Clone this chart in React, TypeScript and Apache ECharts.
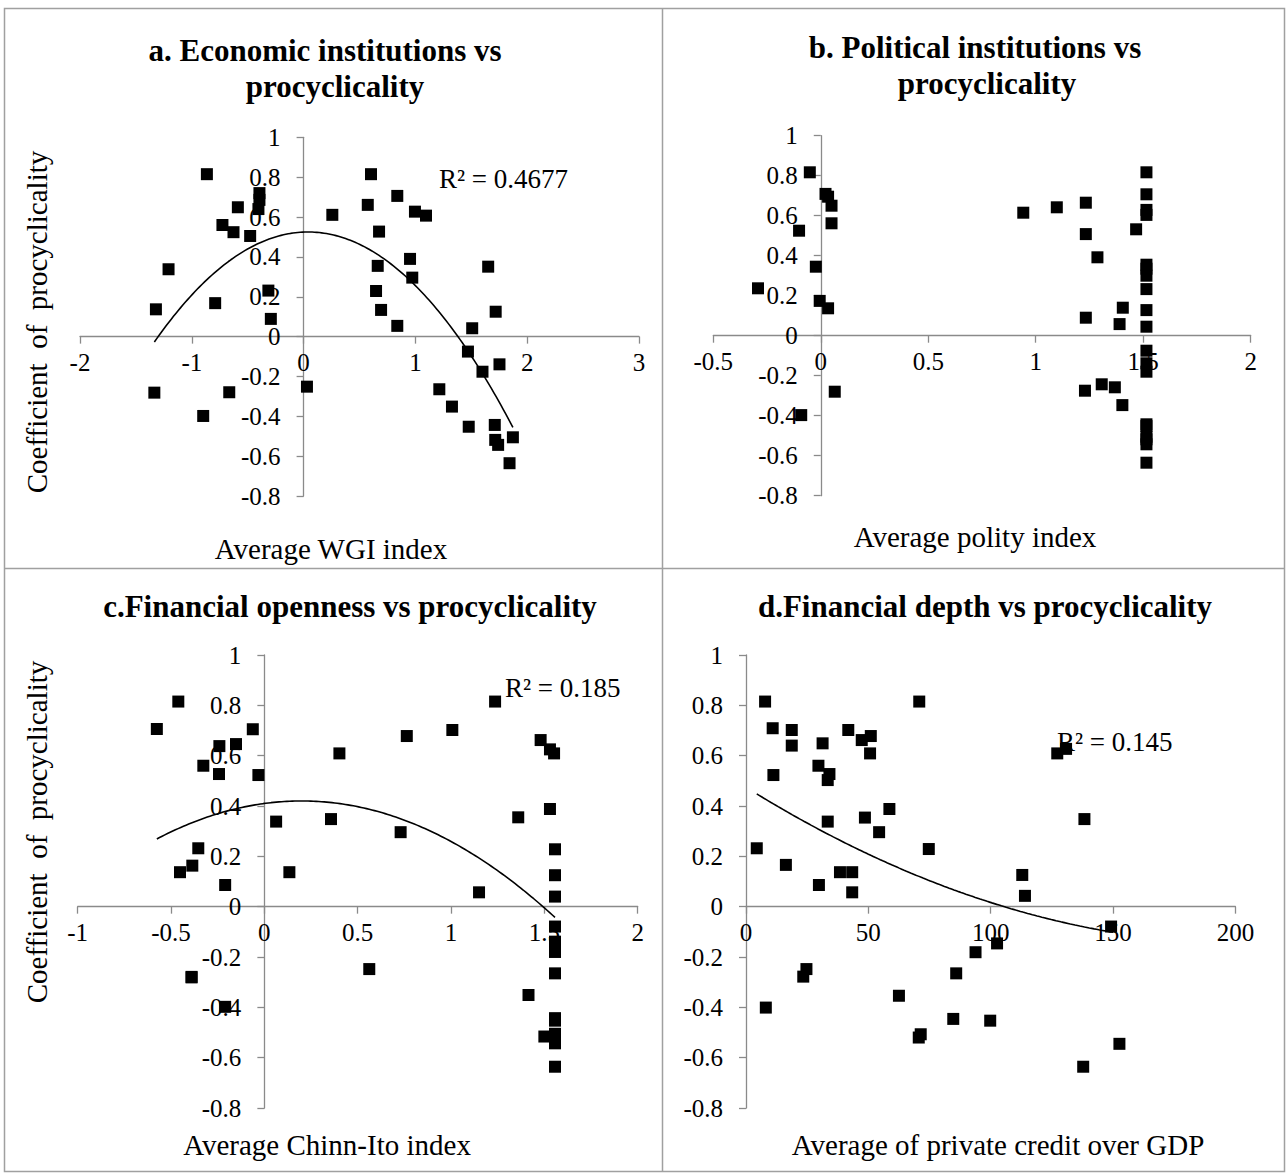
import React, { useEffect, useRef } from "react";
import * as echarts from "echarts";

// Panel a: Average WGI index vs coefficient of procyclicality
const aX = [-0.865, -0.395, -0.395, -0.404, -0.588, -0.726, -0.627, -0.478, -1.208, -0.791, -1.321, -0.315, -0.293,
  0.603, 0.257, 0.574, 0.838, 0.996, 1.095, 0.675, 0.663, 0.952, 0.972, 0.648, 0.693, 0.838, 1.651, 1.718, 1.508,
  -1.335, -0.898, -0.665, 0.03, 1.47, 1.752, 1.6, 1.214, 1.327, 1.477, 1.71, 1.714, 1.74, 1.872, 1.842];
const aY = [0.815, 0.72, 0.686, 0.64, 0.649, 0.56, 0.524, 0.505, 0.338, 0.168, 0.137, 0.231, 0.089,
  0.815, 0.611, 0.661, 0.706, 0.627, 0.607, 0.527, 0.355, 0.39, 0.296, 0.229, 0.134, 0.054, 0.351, 0.125, 0.042,
  -0.281, -0.398, -0.279, -0.251, -0.075, -0.139, -0.176, -0.264, -0.351, -0.452, -0.443, -0.518, -0.543, -0.505, -0.635];

// Panel b: Average polity index
const bX = [-0.051, 0.022, 0.034, 0.05, 0.05, -0.101, -0.023, -0.292, -0.005, 0.034,
  1.515, 1.515, 1.515, 1.515, 0.942, 1.098, 1.233, 1.233, 1.467, 1.287, 1.515, 1.515, 1.515, 1.515, 1.515, 1.405, 1.233, 1.39, 1.515,
  0.065, -0.091, 1.229, 1.307, 1.368, 1.403, 1.515, 1.515, 1.515, 1.515, 1.515, 1.515, 1.515, 1.515, 1.515];
const bY = [0.817, 0.709, 0.695, 0.65, 0.562, 0.525, 0.345, 0.237, 0.174, 0.137,
  0.817, 0.707, 0.629, 0.604, 0.615, 0.642, 0.665, 0.508, 0.532, 0.392, 0.355, 0.335, 0.3, 0.233, 0.128, 0.14, 0.09, 0.058, 0.045,
  -0.28, -0.397, -0.275, -0.243, -0.258, -0.347, -0.075, -0.138, -0.18, -0.443, -0.452, -0.505, -0.518, -0.543, -0.635];

// Panel c: Average Chinn-Ito index
const cX = [-0.576, -0.461, -0.062, -0.241, -0.152, -0.327, -0.243, -0.032, 0.063, -0.354, -0.386, -0.452, 0.134, -0.21,
  0.763, 1.007, 1.236, 0.402, 1.48, 1.53, 1.552, 0.357, 0.73, 1.36, 1.53, 1.557, 1.557, 1.557, 1.15,
  -0.39, -0.39, -0.21, 0.562, 1.415, 1.557, 1.557, 1.557, 1.557, 1.557, 1.557, 1.5, 1.557, 1.557, 1.557];
const cY = [0.706, 0.815, 0.705, 0.638, 0.646, 0.56, 0.527, 0.523, 0.338, 0.232, 0.163, 0.137, 0.137, 0.086,
  0.678, 0.702, 0.815, 0.609, 0.662, 0.625, 0.609, 0.348, 0.296, 0.355, 0.388, 0.228, 0.125, 0.04, 0.057,
  -0.281, -0.279, -0.398, -0.248, -0.351, -0.079, -0.139, -0.18, -0.265, -0.443, -0.453, -0.516, -0.505, -0.543, -0.636];

// Panel d: Average of private credit over GDP
const dX = [7.8, 10.9, 18.7, 18.7, 11.2, 4.4, 16.3, 31.3, 29.6, 34.1, 33.4, 33.4, 29.8, 38.4, 43.4, 43.4, 41.8, 47.3, 51, 50.7,
  48.6, 58.6, 54.4, 70.8, 74.7, 127.2, 130.8, 138.3, 112.9, 114,
  8.1, 23.4, 24.7, 62.5, 70.6, 71.4, 84.7, 99.8, 93.8, 102.6, 85.9, 137.8, 152.6, 149.2];
const dY = [0.815, 0.709, 0.702, 0.64, 0.523, 0.232, 0.166, 0.649, 0.56, 0.527, 0.503, 0.338, 0.086, 0.137, 0.137, 0.057, 0.702, 0.662, 0.678, 0.609,
  0.354, 0.388, 0.296, 0.815, 0.229, 0.609, 0.627, 0.348, 0.126, 0.043,
  -0.401, -0.278, -0.248, -0.354, -0.52, -0.507, -0.446, -0.453, -0.181, -0.146, -0.265, -0.636, -0.545, -0.079];

// Polynomial (order 2) trend lines as shown in the picture: [c0, c1, c2, xFrom, xTo]
const trendA = [0.5245, 0.0234, -0.292, -1.335, 1.872];
const trendC = [0.41, 0.1, -0.251, -0.576, 1.557];
const trendD = [0.4743, -0.006051, 0.00001474, 4.4, 150];

const titles = ["a. Economic institutions vs", "procyclicality", "b. Political institutions vs", "procyclicality",
  "c.Financial openness vs procyclicality", "d.Financial depth vs procyclicality"];
const xTitles = ["Average WGI index", "Average polity index", "Average Chinn-Ito index", "Average of private credit over GDP"];
const yTitle = "Coefficient  of  procyclicality";
const r2Labels = ["R² = 0.4677", "R² = 0.185", "R² = 0.145"];

const SERIF = "Liberation Serif";
const AXIS_COLOR = "#8a8a8a";

function trendPoints(t: number[], steps = 150) {
  const [c0, c1, c2, lo, hi] = t;
  const out: number[][] = [];
  for (let i = 0; i <= steps; i++) {
    const x = lo + ((hi - lo) * i) / steps;
    out.push([x, c0 + c1 * x + c2 * x * x]);
  }
  return out;
}

const Y_MIN = -0.8, Y_MAX = 1;

const panels = [
  { xs: aX, ys: aY, min: -2, max: 3, interval: 1, grid: { left: 80, top: 137.3, width: 559, height: 358.8 }, trend: trendA },
  { xs: bX, ys: bY, min: -0.5, max: 2, interval: 0.5, grid: { left: 713.3, top: 135.7, width: 537.4, height: 360 }, trend: null },
  { xs: cX, ys: cY, min: -1, max: 2, interval: 0.5, grid: { left: 77.7, top: 655, width: 560, height: 453 }, trend: trendC },
  { xs: dX, ys: dY, min: 0, max: 200, interval: 50, grid: { left: 746, top: 655, width: 489.4, height: 453 }, trend: trendD },
];

function txt(text: string, x: number, y: number, size: number, opts: any = {}) {
  return {
    type: "text",
    x,
    y,
    rotation: opts.rotation || 0,
    silent: true,
    style: {
      text,
      x: 0,
      y: 0,
      fill: "#000",
      fontFamily: SERIF,
      fontSize: size,
      fontWeight: opts.bold ? "bold" : "normal",
      align: opts.align || "center",
      verticalAlign: "middle",
    },
  };
}

export default function App() {
  const ref = useRef<HTMLDivElement>(null);
  useEffect(() => {
    if (!ref.current) return;
    const chart = echarts.init(ref.current, undefined, { renderer: "svg" });
    const grids: any[] = [];
    const xAxes: any[] = [];
    const yAxes: any[] = [];
    const series: any[] = [];
    const labelStyle = { color: "#000", fontFamily: SERIF, fontSize: 25, fontWeight: "normal", fontStyle: "normal" };
    panels.forEach((p, i) => {
      grids.push({ ...p.grid, containLabel: false });
      const xOff = -((0 - Y_MIN) / (Y_MAX - Y_MIN)) * p.grid.height;
      const yOff = -((0 - p.min) / (p.max - p.min)) * p.grid.width;
      xAxes.push({
        type: "value",
        gridIndex: i,
        position: "bottom",
        offset: xOff,
        min: p.min,
        max: p.max,
        interval: p.interval,
        axisLine: { show: true, onZero: false, lineStyle: { color: AXIS_COLOR, width: 1.3 } },
        axisTick: { show: true, length: 7, lineStyle: { color: AXIS_COLOR, width: 1.3 } },
        axisLabel: { ...labelStyle, margin: 13 },
        splitLine: { show: false },
      });
      yAxes.push({
        type: "value",
        gridIndex: i,
        position: "left",
        offset: yOff,
        min: Y_MIN,
        max: Y_MAX,
        interval: 0.2,
        axisLine: { show: true, onZero: false, lineStyle: { color: AXIS_COLOR, width: 1.3 } },
        axisTick: { show: true, length: 7, lineStyle: { color: AXIS_COLOR, width: 1.3 } },
        axisLabel: { ...labelStyle, margin: 23 },
        splitLine: { show: false },
      });
      series.push({
        type: "scatter",
        xAxisIndex: i,
        yAxisIndex: i,
        symbol: "rect",
        symbolSize: 12,
        itemStyle: { color: "#000", opacity: 1 },
        data: p.xs.map((x, k) => [x, p.ys[k]]),
        z: 3,
      });
      if (p.trend) {
        series.push({
          type: "line",
          xAxisIndex: i,
          yAxisIndex: i,
          showSymbol: false,
          symbol: "none",
          silent: true,
          lineStyle: { color: "#000", width: 1.6 },
          data: trendPoints(p.trend),
          z: 4,
        });
      }
    });

    const graphic: any[] = [
      { type: "rect", silent: true, shape: { x: 4.5, y: 8.5, width: 1280, height: 1163 }, style: { fill: "none", stroke: "#a0a0a0", lineWidth: 1.5 } },
      { type: "line", silent: true, shape: { x1: 662.5, y1: 8.5, x2: 662.5, y2: 1171.5 }, style: { stroke: "#a0a0a0", lineWidth: 1.5 } },
      { type: "line", silent: true, shape: { x1: 4.5, y1: 568.5, x2: 1284.5, y2: 568.5 }, style: { stroke: "#a0a0a0", lineWidth: 1.5 } },
      txt(titles[0], 325, 50, 31, { bold: true }),
      txt(titles[1], 335, 86, 31, { bold: true }),
      txt(titles[2], 975, 47, 31, { bold: true }),
      txt(titles[3], 987, 83, 31, { bold: true }),
      txt(titles[4], 350, 606, 31, { bold: true }),
      txt(titles[5], 985, 606, 31, { bold: true }),
      txt(xTitles[0], 331, 549, 29),
      txt(xTitles[1], 975, 537, 29),
      txt(xTitles[2], 327, 1145, 29),
      txt(xTitles[3], 998, 1145, 29),
      txt(yTitle, 37, 322, 29, { rotation: Math.PI / 2 }),
      txt(yTitle, 37, 832, 29, { rotation: Math.PI / 2 }),
      txt(r2Labels[0], 439, 179, 27, { align: "left" }),
      txt(r2Labels[1], 505, 688, 27, { align: "left" }),
      txt(r2Labels[2], 1057, 742, 27, { align: "left" }),
    ];

    chart.setOption({
      animation: false,
      backgroundColor: "#fff",
      textStyle: { fontFamily: SERIF },
      grid: grids,
      xAxis: xAxes,
      yAxis: yAxes,
      series,
      graphic,
    });
    return () => chart.dispose();
  }, []);
  return (
    <div
      ref={ref}
      style={{ position: "absolute", left: 0, top: 0, width: 1287, height: 1173, background: "#fff", fontFamily: SERIF }}
    />
  );
}
